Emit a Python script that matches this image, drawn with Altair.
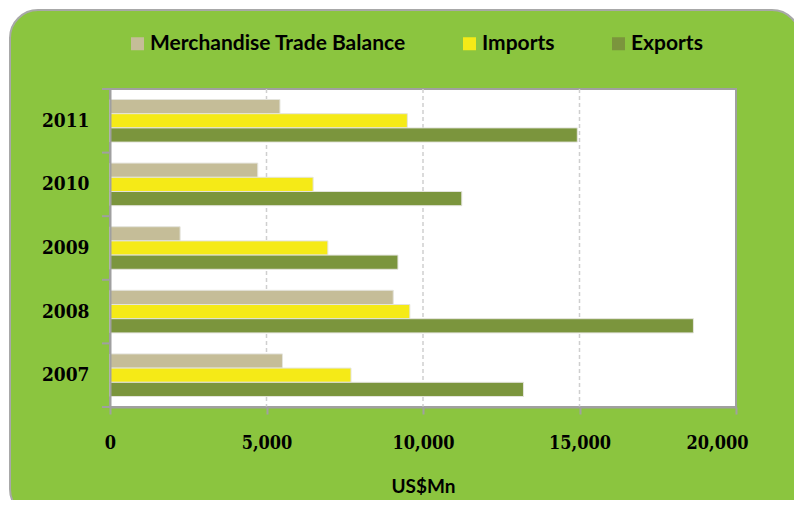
import altair as alt
import pandas as pd

years = ["2011", "2010", "2009", "2008", "2007"]
series = ["Merchandise Trade Balance", "Imports", "Exports"]
balance = [5430, 4720, 2240, 9050, 5510]
imports = [9500, 6490, 6960, 9580, 7700]
exports = [14930, 11240, 9200, 18640, 13210]
x_ticks = [0, 5000, 10000, 15000, 20000]
grid_vals = [5000, 10000, 15000]
colors = ["#C5BD98", "#F5EA17", "#7B953D"]

rows = []
for i, yr in enumerate(years):
    for s, vals in zip(series, [balance, imports, exports]):
        rows.append({"year": yr, "series": s, "value": vals[i]})
df = pd.DataFrame(rows)

W, H = 626, 318
GRAY = "#A0A0A0"
SERIF = "DejaVu Serif Condensed, Liberation Serif, serif"
one = pd.DataFrame({"k": [0]})

xscale = alt.Scale(domain=[0, 20000], nice=False)
yscale = alt.Scale(domain=years, paddingInner=0, paddingOuter=0)

x_axis = alt.Axis(
    values=x_ticks, format=",.0f", title="US$Mn", grid=False,
    domainColor=GRAY, domainWidth=2, tickColor=GRAY, tickWidth=2, tickSize=7,
    labelFont=SERIF, labelFontWeight="bold", labelFontSize=18,
    labelColor="black", labelPadding=20, labelFlush=False,
    labelOffset={"condition": {"test": "datum.value === 20000", "value": -19}, "value": 0},
    titleFont="Lato", titleFontWeight="bold", titleFontSize=19,
    titleColor="black", titlePadding=25, zindex=1,
)
y_axis = alt.Axis(
    title=None, ticks=False, domainColor=GRAY, domainWidth=2,
    labelFont=SERIF, labelFontWeight="bold", labelFontSize=19,
    labelColor="black", labelPadding=21, zindex=1,
)

bg = alt.Chart(one).mark_rect(
    fill="#8BC53F", stroke="#A8A8A8", strokeWidth=2, cornerRadius=28
).encode(x=alt.value(-100), x2=alt.value(690), y=alt.value(-79), y2=alt.value(428))

plot_bg = alt.Chart(one).mark_rect(
    fill="white", stroke=GRAY, strokeWidth=2
).encode(x=alt.value(0), x2=alt.value(W), y=alt.value(0), y2=alt.value(H))

grid = alt.Chart(pd.DataFrame({"v": grid_vals})).mark_rule(
    color="#CFCFCF", strokeDash=[4, 3], strokeWidth=1.5
).encode(x=alt.X("v:Q", scale=xscale, axis=x_axis), y=alt.value(0), y2=alt.value(H))

bars = alt.Chart(df).mark_bar(stroke="#E4E4DC", strokeWidth=1).encode(
    x=alt.X("value:Q", scale=xscale, axis=x_axis),
    y=alt.Y("year:N", scale=yscale, axis=y_axis),
    yOffset=alt.YOffset(
        "series:N", scale=alt.Scale(domain=series, paddingInner=0, paddingOuter=0.74)
    ),
    color=alt.Color(
        "series:N",
        scale=alt.Scale(domain=series, range=colors),
        legend=alt.Legend(
            title=None, orient="none", legendX=17, legendY=-56,
            direction="horizontal", columns=3, symbolType="square",
            symbolSize=169, symbolStrokeWidth=0, labelFont="Lato",
            labelFontWeight="bold", labelFontSize=21, labelColor="black",
            labelOffset=2, columnPadding=53, labelLimit=600, zindex=1,
        ),
    ),
)

yt = alt.Chart(pd.DataFrame({"year": years})).mark_rule(color=GRAY, strokeWidth=2).encode(
    y=alt.Y("year:N", bandPosition=0, scale=yscale, axis=y_axis),
    x=alt.value(-8), x2=alt.value(0),
)
yt_bottom = alt.Chart(pd.DataFrame({"year": [years[-1]]})).mark_rule(
    color=GRAY, strokeWidth=2
).encode(
    y=alt.Y("year:N", bandPosition=1, scale=yscale, axis=y_axis),
    x=alt.value(-8), x2=alt.value(0),
)

chart = alt.layer(bg, plot_bg, grid, bars, yt, yt_bottom).properties(
    width=W, height=H, autosize="none",
    padding={"left": 102, "top": 81, "right": 58, "bottom": 93},
).configure_view(stroke="transparent").configure(background="white")

chart.save("out.html", embed_options={"renderer": "svg", "actions": False})
